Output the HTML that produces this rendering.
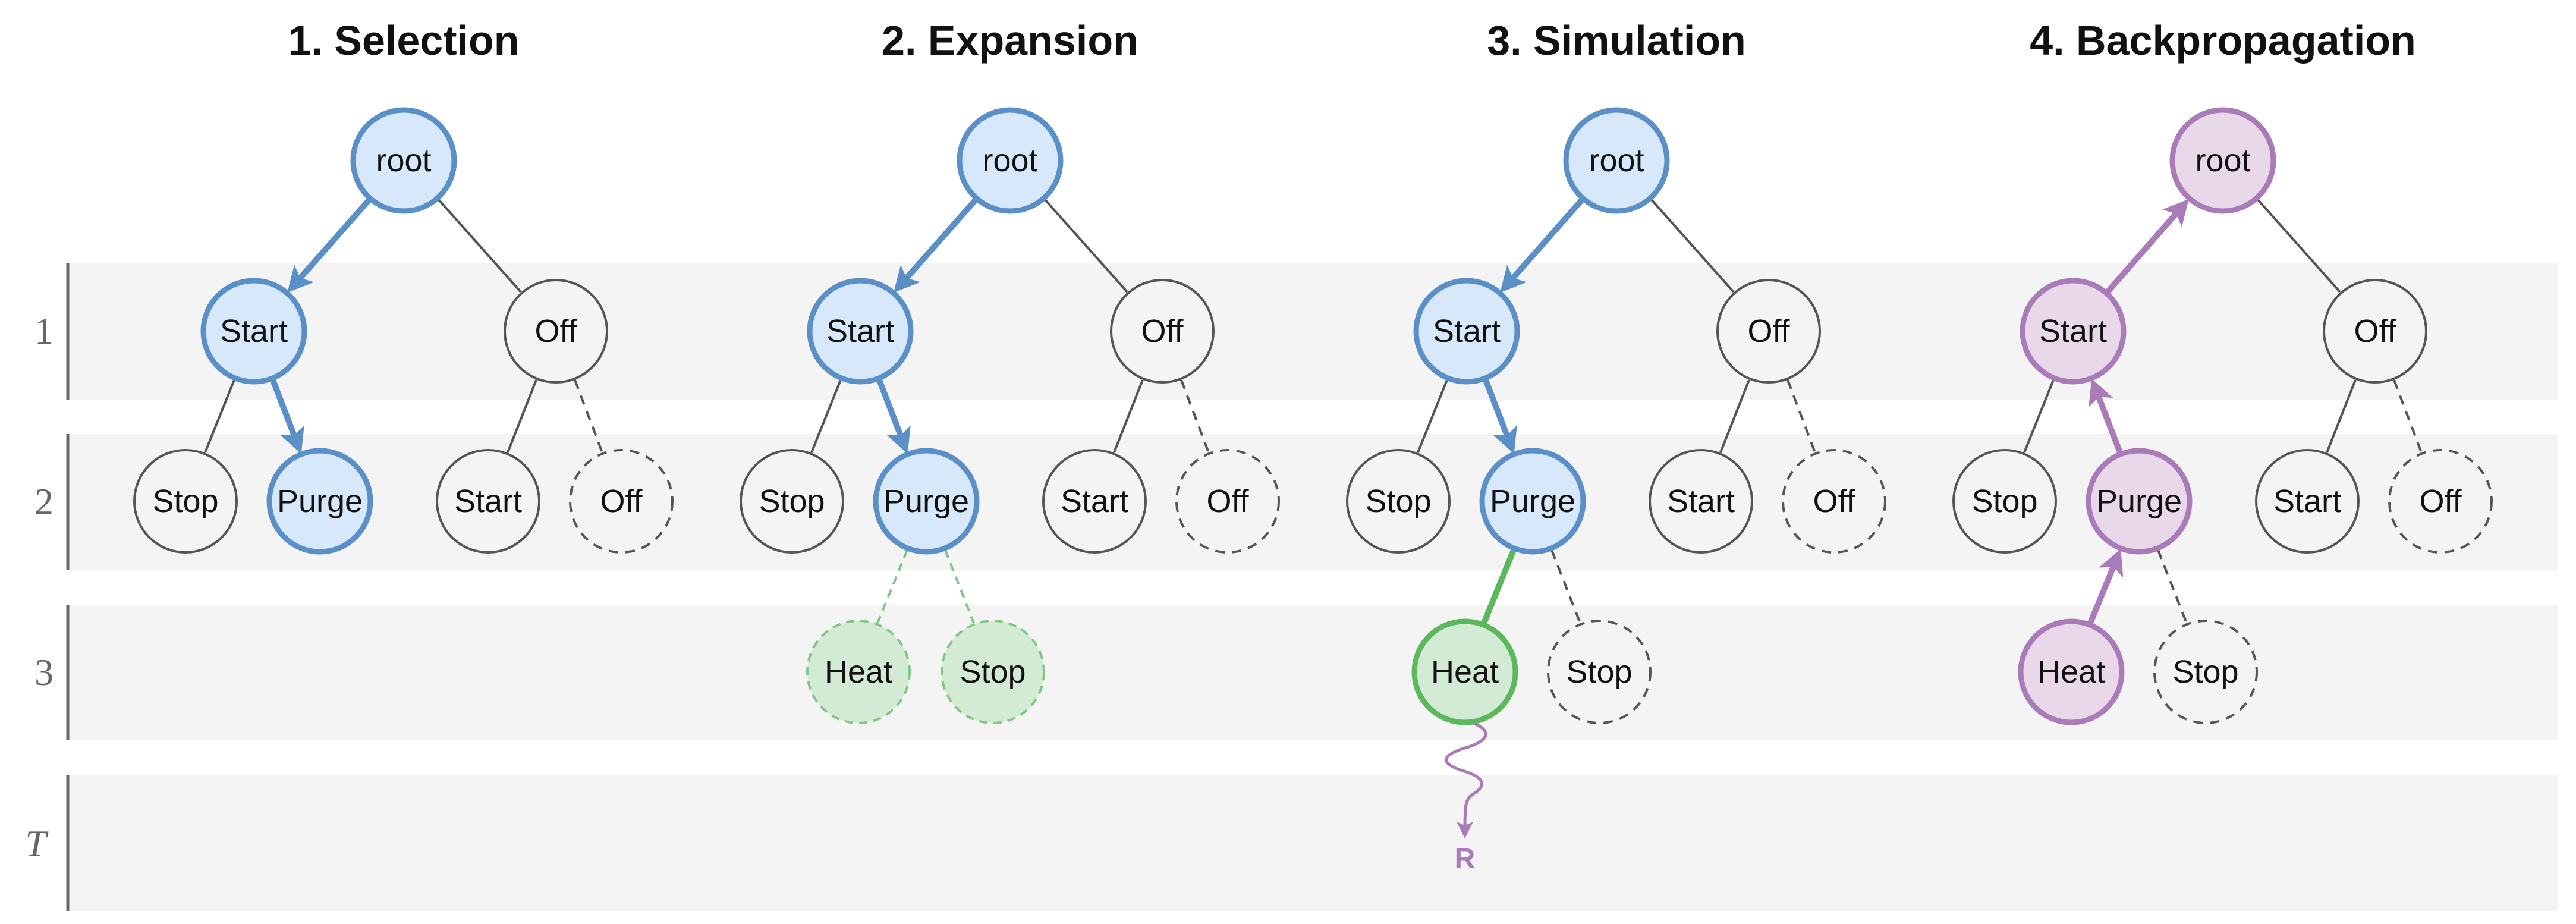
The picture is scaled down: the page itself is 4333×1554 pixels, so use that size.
<!DOCTYPE html>
<html><head><meta charset="utf-8"><style>
html,body{margin:0;padding:0;background:#fff;}
svg{display:block;}
text{font-family:"Liberation Sans",Arial,sans-serif;}
</style></head><body>
<svg width="4333" height="1554" viewBox="0 0 4333 1554" xmlns="http://www.w3.org/2000/svg">
<defs>
<marker id="ab" markerUnits="userSpaceOnUse" markerWidth="80" markerHeight="80" viewBox="-40 -40 80 80" refX="0" refY="0" orient="auto"><path d="M27,0 L-16,-22 L-6,0 L-16,22 Z" fill="#5b8fc7"/></marker>
<marker id="ap" markerUnits="userSpaceOnUse" markerWidth="80" markerHeight="80" viewBox="-40 -40 80 80" refX="0" refY="0" orient="auto"><path d="M27,0 L-16,-22 L-6,0 L-16,22 Z" fill="#a97bb8"/></marker>
<marker id="aw" markerUnits="userSpaceOnUse" markerWidth="60" markerHeight="60" viewBox="-30 -30 60 60" refX="0" refY="0" orient="auto"><path d="M18,0 L-10,-14 L-4,0 L-10,14 Z" fill="#a97bb8"/></marker>
</defs>
<!-- bands -->
<g fill="#f4f4f4">
<rect x="114" y="443" width="4188" height="229"/>
<rect x="114" y="730" width="4188" height="228"/>
<rect x="114" y="1017" width="4188" height="228"/>
<rect x="114" y="1303" width="4188" height="229"/>
</g>
<g stroke="#666" stroke-width="5">
<line x1="114" y1="443" x2="114" y2="672"/>
<line x1="114" y1="730" x2="114" y2="958"/>
<line x1="114" y1="1017" x2="114" y2="1245"/>
<line x1="114" y1="1303" x2="114" y2="1532"/>
</g>
<g fill="#666" font-size="64" text-anchor="middle" style="font-family:'Liberation Serif',serif">
<text x="74" y="578" style="font-family:'Liberation Serif',serif">1</text>
<text x="74" y="865" style="font-family:'Liberation Serif',serif">2</text>
<text x="74" y="1152" style="font-family:'Liberation Serif',serif">3</text>
<text x="60" y="1440" font-style="italic" style="font-family:'Liberation Serif',serif">T</text>
</g>
<!-- titles -->
<g font-size="70" font-weight="bold" text-anchor="middle" fill="#111">
<text x="679" y="92">1. Selection</text>
<text x="1699" y="92">2. Expansion</text>
<text x="2719" y="92">3. Simulation</text>
<text x="3739" y="92">4. Backpropagation</text>
</g>

<!-- common gray edges, per panel -->
<g id="common" stroke="#555" stroke-width="4" fill="none">
</g>

<!-- PANEL 1 -->
<g transform="translate(0,0)">
<line x1="738" y1="336" x2="876" y2="491" stroke="#555" stroke-width="4"/>
<line x1="394" y1="639" x2="345" y2="761" stroke="#555" stroke-width="4"/>
<line x1="902" y1="639" x2="854" y2="761" stroke="#555" stroke-width="4"/>
<line x1="967" y1="639" x2="1013" y2="761" stroke="#555" stroke-width="4" stroke-dasharray="16 12"/>
<line x1="621" y1="336" x2="501" y2="472" stroke="#5b8fc7" stroke-width="10" marker-end="url(#ab)"/>
<line x1="459" y1="639" x2="497" y2="738" stroke="#5b8fc7" stroke-width="10" marker-end="url(#ab)"/>
<circle cx="679" cy="270" r="85" fill="#d6e8fa" stroke="#5b8fc7" stroke-width="9"/>
<circle cx="427" cy="557" r="85" fill="#d6e8fa" stroke="#5b8fc7" stroke-width="9"/>
<circle cx="538" cy="843" r="85" fill="#d6e8fa" stroke="#5b8fc7" stroke-width="9"/>
<circle cx="935" cy="557" r="86" fill="none" stroke="#555" stroke-width="4"/>
<circle cx="312" cy="843" r="86" fill="none" stroke="#555" stroke-width="4"/>
<circle cx="821" cy="843" r="86" fill="none" stroke="#555" stroke-width="4"/>
<circle cx="1045" cy="843" r="86" fill="none" stroke="#555" stroke-width="4" stroke-dasharray="16 12"/>
<g font-size="54" text-anchor="middle" dominant-baseline="central" fill="#111">
<text x="679" y="270">root</text><text x="427" y="557">Start</text><text x="935" y="557">Off</text>
<text x="312" y="843">Stop</text><text x="538" y="843">Purge</text><text x="821" y="843">Start</text><text x="1045" y="843">Off</text>
</g>
</g>

<!-- PANEL 2 -->
<g transform="translate(1020,0)">
<line x1="738" y1="336" x2="876" y2="491" stroke="#555" stroke-width="4"/>
<line x1="394" y1="639" x2="345" y2="761" stroke="#555" stroke-width="4"/>
<line x1="902" y1="639" x2="854" y2="761" stroke="#555" stroke-width="4"/>
<line x1="967" y1="639" x2="1013" y2="761" stroke="#555" stroke-width="4" stroke-dasharray="16 12"/>
<line x1="506" y1="925" x2="456" y2="1048" stroke="#82c785" stroke-width="4" stroke-dasharray="14 10"/>
<line x1="570" y1="925" x2="618" y2="1048" stroke="#82c785" stroke-width="4" stroke-dasharray="14 10"/>
<line x1="621" y1="336" x2="501" y2="472" stroke="#5b8fc7" stroke-width="10" marker-end="url(#ab)"/>
<line x1="459" y1="639" x2="497" y2="738" stroke="#5b8fc7" stroke-width="10" marker-end="url(#ab)"/>
<circle cx="679" cy="270" r="85" fill="#d6e8fa" stroke="#5b8fc7" stroke-width="9"/>
<circle cx="427" cy="557" r="85" fill="#d6e8fa" stroke="#5b8fc7" stroke-width="9"/>
<circle cx="538" cy="843" r="85" fill="#d6e8fa" stroke="#5b8fc7" stroke-width="9"/>
<circle cx="935" cy="557" r="86" fill="none" stroke="#555" stroke-width="4"/>
<circle cx="312" cy="843" r="86" fill="none" stroke="#555" stroke-width="4"/>
<circle cx="821" cy="843" r="86" fill="none" stroke="#555" stroke-width="4"/>
<circle cx="1045" cy="843" r="86" fill="none" stroke="#555" stroke-width="4" stroke-dasharray="16 12"/>
<circle cx="424" cy="1130" r="86" fill="#d3ebd4" stroke="#82c785" stroke-width="4" stroke-dasharray="14 10"/>
<circle cx="650" cy="1130" r="86" fill="#d3ebd4" stroke="#82c785" stroke-width="4" stroke-dasharray="14 10"/>
<g font-size="54" text-anchor="middle" dominant-baseline="central" fill="#111">
<text x="679" y="270">root</text><text x="427" y="557">Start</text><text x="935" y="557">Off</text>
<text x="312" y="843">Stop</text><text x="538" y="843">Purge</text><text x="821" y="843">Start</text><text x="1045" y="843">Off</text>
<text x="424" y="1130">Heat</text><text x="650" y="1130">Stop</text>
</g>
</g>

<!-- PANEL 3 -->
<g transform="translate(2040,0)">
<line x1="738" y1="336" x2="876" y2="491" stroke="#555" stroke-width="4"/>
<line x1="394" y1="639" x2="345" y2="761" stroke="#555" stroke-width="4"/>
<line x1="902" y1="639" x2="854" y2="761" stroke="#555" stroke-width="4"/>
<line x1="967" y1="639" x2="1013" y2="761" stroke="#555" stroke-width="4" stroke-dasharray="16 12"/>
<line x1="570" y1="925" x2="618" y2="1048" stroke="#555" stroke-width="4" stroke-dasharray="16 12"/>
<line x1="506" y1="925" x2="456" y2="1048" stroke="#5cb85c" stroke-width="10"/>
<line x1="621" y1="336" x2="501" y2="472" stroke="#5b8fc7" stroke-width="10" marker-end="url(#ab)"/>
<line x1="459" y1="639" x2="497" y2="738" stroke="#5b8fc7" stroke-width="10" marker-end="url(#ab)"/>
<path d="M428,1213 C470,1225 470,1245 424,1258 C380,1272 385,1285 420,1296 C460,1308 460,1322 437,1336 C426,1344 424,1352 424,1392" fill="none" stroke="#a97bb8" stroke-width="5" marker-end="url(#aw)"/>
<text x="424" y="1460" font-size="48" font-weight="bold" text-anchor="middle" fill="#a97bb8">R</text>
<circle cx="679" cy="270" r="85" fill="#d6e8fa" stroke="#5b8fc7" stroke-width="9"/>
<circle cx="427" cy="557" r="85" fill="#d6e8fa" stroke="#5b8fc7" stroke-width="9"/>
<circle cx="538" cy="843" r="85" fill="#d6e8fa" stroke="#5b8fc7" stroke-width="9"/>
<circle cx="935" cy="557" r="86" fill="none" stroke="#555" stroke-width="4"/>
<circle cx="312" cy="843" r="86" fill="none" stroke="#555" stroke-width="4"/>
<circle cx="821" cy="843" r="86" fill="none" stroke="#555" stroke-width="4"/>
<circle cx="1045" cy="843" r="86" fill="none" stroke="#555" stroke-width="4" stroke-dasharray="16 12"/>
<circle cx="424" cy="1130" r="85" fill="#d3ebd4" stroke="#5cb85c" stroke-width="9"/>
<circle cx="650" cy="1130" r="86" fill="none" stroke="#555" stroke-width="4" stroke-dasharray="16 12"/>
<g font-size="54" text-anchor="middle" dominant-baseline="central" fill="#111">
<text x="679" y="270">root</text><text x="427" y="557">Start</text><text x="935" y="557">Off</text>
<text x="312" y="843">Stop</text><text x="538" y="843">Purge</text><text x="821" y="843">Start</text><text x="1045" y="843">Off</text>
<text x="424" y="1130">Heat</text><text x="650" y="1130">Stop</text>
</g>
</g>

<!-- PANEL 4 -->
<g transform="translate(3060,0)">
<line x1="738" y1="336" x2="876" y2="491" stroke="#555" stroke-width="4"/>
<line x1="394" y1="639" x2="345" y2="761" stroke="#555" stroke-width="4"/>
<line x1="902" y1="639" x2="854" y2="761" stroke="#555" stroke-width="4"/>
<line x1="967" y1="639" x2="1013" y2="761" stroke="#555" stroke-width="4" stroke-dasharray="16 12"/>
<line x1="570" y1="925" x2="618" y2="1048" stroke="#555" stroke-width="4" stroke-dasharray="16 12"/>
<line x1="485" y1="491" x2="604" y2="355" stroke="#a97bb8" stroke-width="10" marker-end="url(#ap)"/>
<line x1="506" y1="761" x2="468" y2="662" stroke="#a97bb8" stroke-width="10" marker-end="url(#ap)"/>
<line x1="456" y1="1048" x2="497" y2="948" stroke="#a97bb8" stroke-width="10" marker-end="url(#ap)"/>
<circle cx="679" cy="270" r="85" fill="#e9d8ea" stroke="#a97bb8" stroke-width="9"/>
<circle cx="427" cy="557" r="85" fill="#e9d8ea" stroke="#a97bb8" stroke-width="9"/>
<circle cx="538" cy="843" r="85" fill="#e9d8ea" stroke="#a97bb8" stroke-width="9"/>
<circle cx="424" cy="1130" r="85" fill="#e9d8ea" stroke="#a97bb8" stroke-width="9"/>
<circle cx="935" cy="557" r="86" fill="none" stroke="#555" stroke-width="4"/>
<circle cx="312" cy="843" r="86" fill="none" stroke="#555" stroke-width="4"/>
<circle cx="821" cy="843" r="86" fill="none" stroke="#555" stroke-width="4"/>
<circle cx="1045" cy="843" r="86" fill="none" stroke="#555" stroke-width="4" stroke-dasharray="16 12"/>
<circle cx="650" cy="1130" r="86" fill="none" stroke="#555" stroke-width="4" stroke-dasharray="16 12"/>
<g font-size="54" text-anchor="middle" dominant-baseline="central" fill="#111">
<text x="679" y="270">root</text><text x="427" y="557">Start</text><text x="935" y="557">Off</text>
<text x="312" y="843">Stop</text><text x="538" y="843">Purge</text><text x="821" y="843">Start</text><text x="1045" y="843">Off</text>
<text x="424" y="1130">Heat</text><text x="650" y="1130">Stop</text>
</g>
</g>
</svg>
</body></html>
